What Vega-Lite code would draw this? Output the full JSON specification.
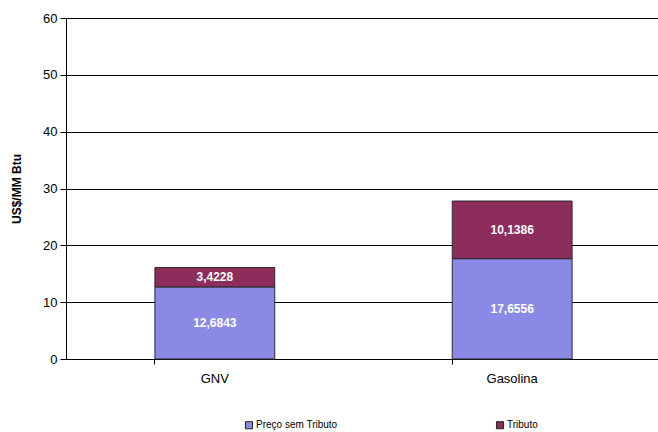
{
  "$schema": "https://vega.github.io/schema/vega-lite/v6.json",
  "width": 592,
  "height": 341,
  "autosize": {"type": "none"},
  "padding": {"left": 66, "top": 18, "right": 0, "bottom": 73},
  "background": "white",
  "config": {"view": {"stroke": null}, "font": "Liberation Sans"},
  "data": {"values": [
    {"combustivel": "GNV", "componente": "Preço sem Tributo", "valor": 12.6843, "label": "12,6843", "ordem": 1},
    {"combustivel": "GNV", "componente": "Tributo", "valor": 3.4228, "label": "3,4228", "ordem": 2},
    {"combustivel": "Gasolina", "componente": "Preço sem Tributo", "valor": 17.6556, "label": "17,6556", "ordem": 1},
    {"combustivel": "Gasolina", "componente": "Tributo", "valor": 10.1386, "label": "10,1386", "ordem": 2}
  ]},
  "transform": [
    {"stack": "valor", "groupby": ["combustivel"], "sort": [{"field": "ordem"}], "as": ["y0", "y1"]},
    {"calculate": "(datum.y0 + datum.y1) / 2", "as": "ymid"}
  ],
  "encoding": {
    "x": {
      "field": "combustivel", "type": "nominal", "sort": ["GNV", "Gasolina"],
      "scale": {"range": [0, 595], "paddingInner": 0.597, "paddingOuter": 0.299},
      "axis": {"title": null, "labelAngle": 0, "labelFontSize": 13, "labelColor": "#000", "labelPadding": 8,
               "domainColor": "#000", "tickColor": "#000", "bandPosition": 0, "tickSize": 5}
    }
  },
  "layer": [
    {
      "mark": {"type": "bar", "stroke": "#2a2a2a", "strokeWidth": 1},
      "encoding": {
        "y": {"field": "y1", "type": "quantitative",
              "scale": {"domain": [0, 60]},
              "axis": {"title": "US$/MM Btu", "titleFontSize": 12, "titleFontWeight": "bold", "titleColor": "#000",
                       "titlePadding": 19, "values": [0, 10, 20, 30, 40, 50, 60], "labelFontSize": 13,
                       "labelColor": "#000", "domainColor": "#000", "tickColor": "#000", "tickSize": 6,
                       "gridColor": "#000", "gridOpacity": 1, "gridWidth": 1, "labelPadding": 3}},
        "y2": {"field": "y0"},
        "color": {
          "field": "componente", "type": "nominal",
          "scale": {"domain": ["Preço sem Tributo", "Tributo"], "range": ["#8a8ae6", "#8c2d5c"]},
          "legend": {"title": null, "orient": "none", "legendX": 178, "legendY": 402, "direction": "horizontal",
                     "symbolType": "square", "symbolSize": 50, "symbolStrokeColor": "#222", "symbolStrokeWidth": 1,
                     "labelFontSize": 10, "labelColor": "#000", "columnPadding": 156, "labelOffset": 2}
        }
      }
    },
    {
      "mark": {"type": "text", "color": "white", "fontWeight": "bold", "fontSize": 12, "baseline": "middle"},
      "encoding": {
        "y": {"field": "ymid", "type": "quantitative"},
        "text": {"field": "label"}
      }
    }
  ]
}
